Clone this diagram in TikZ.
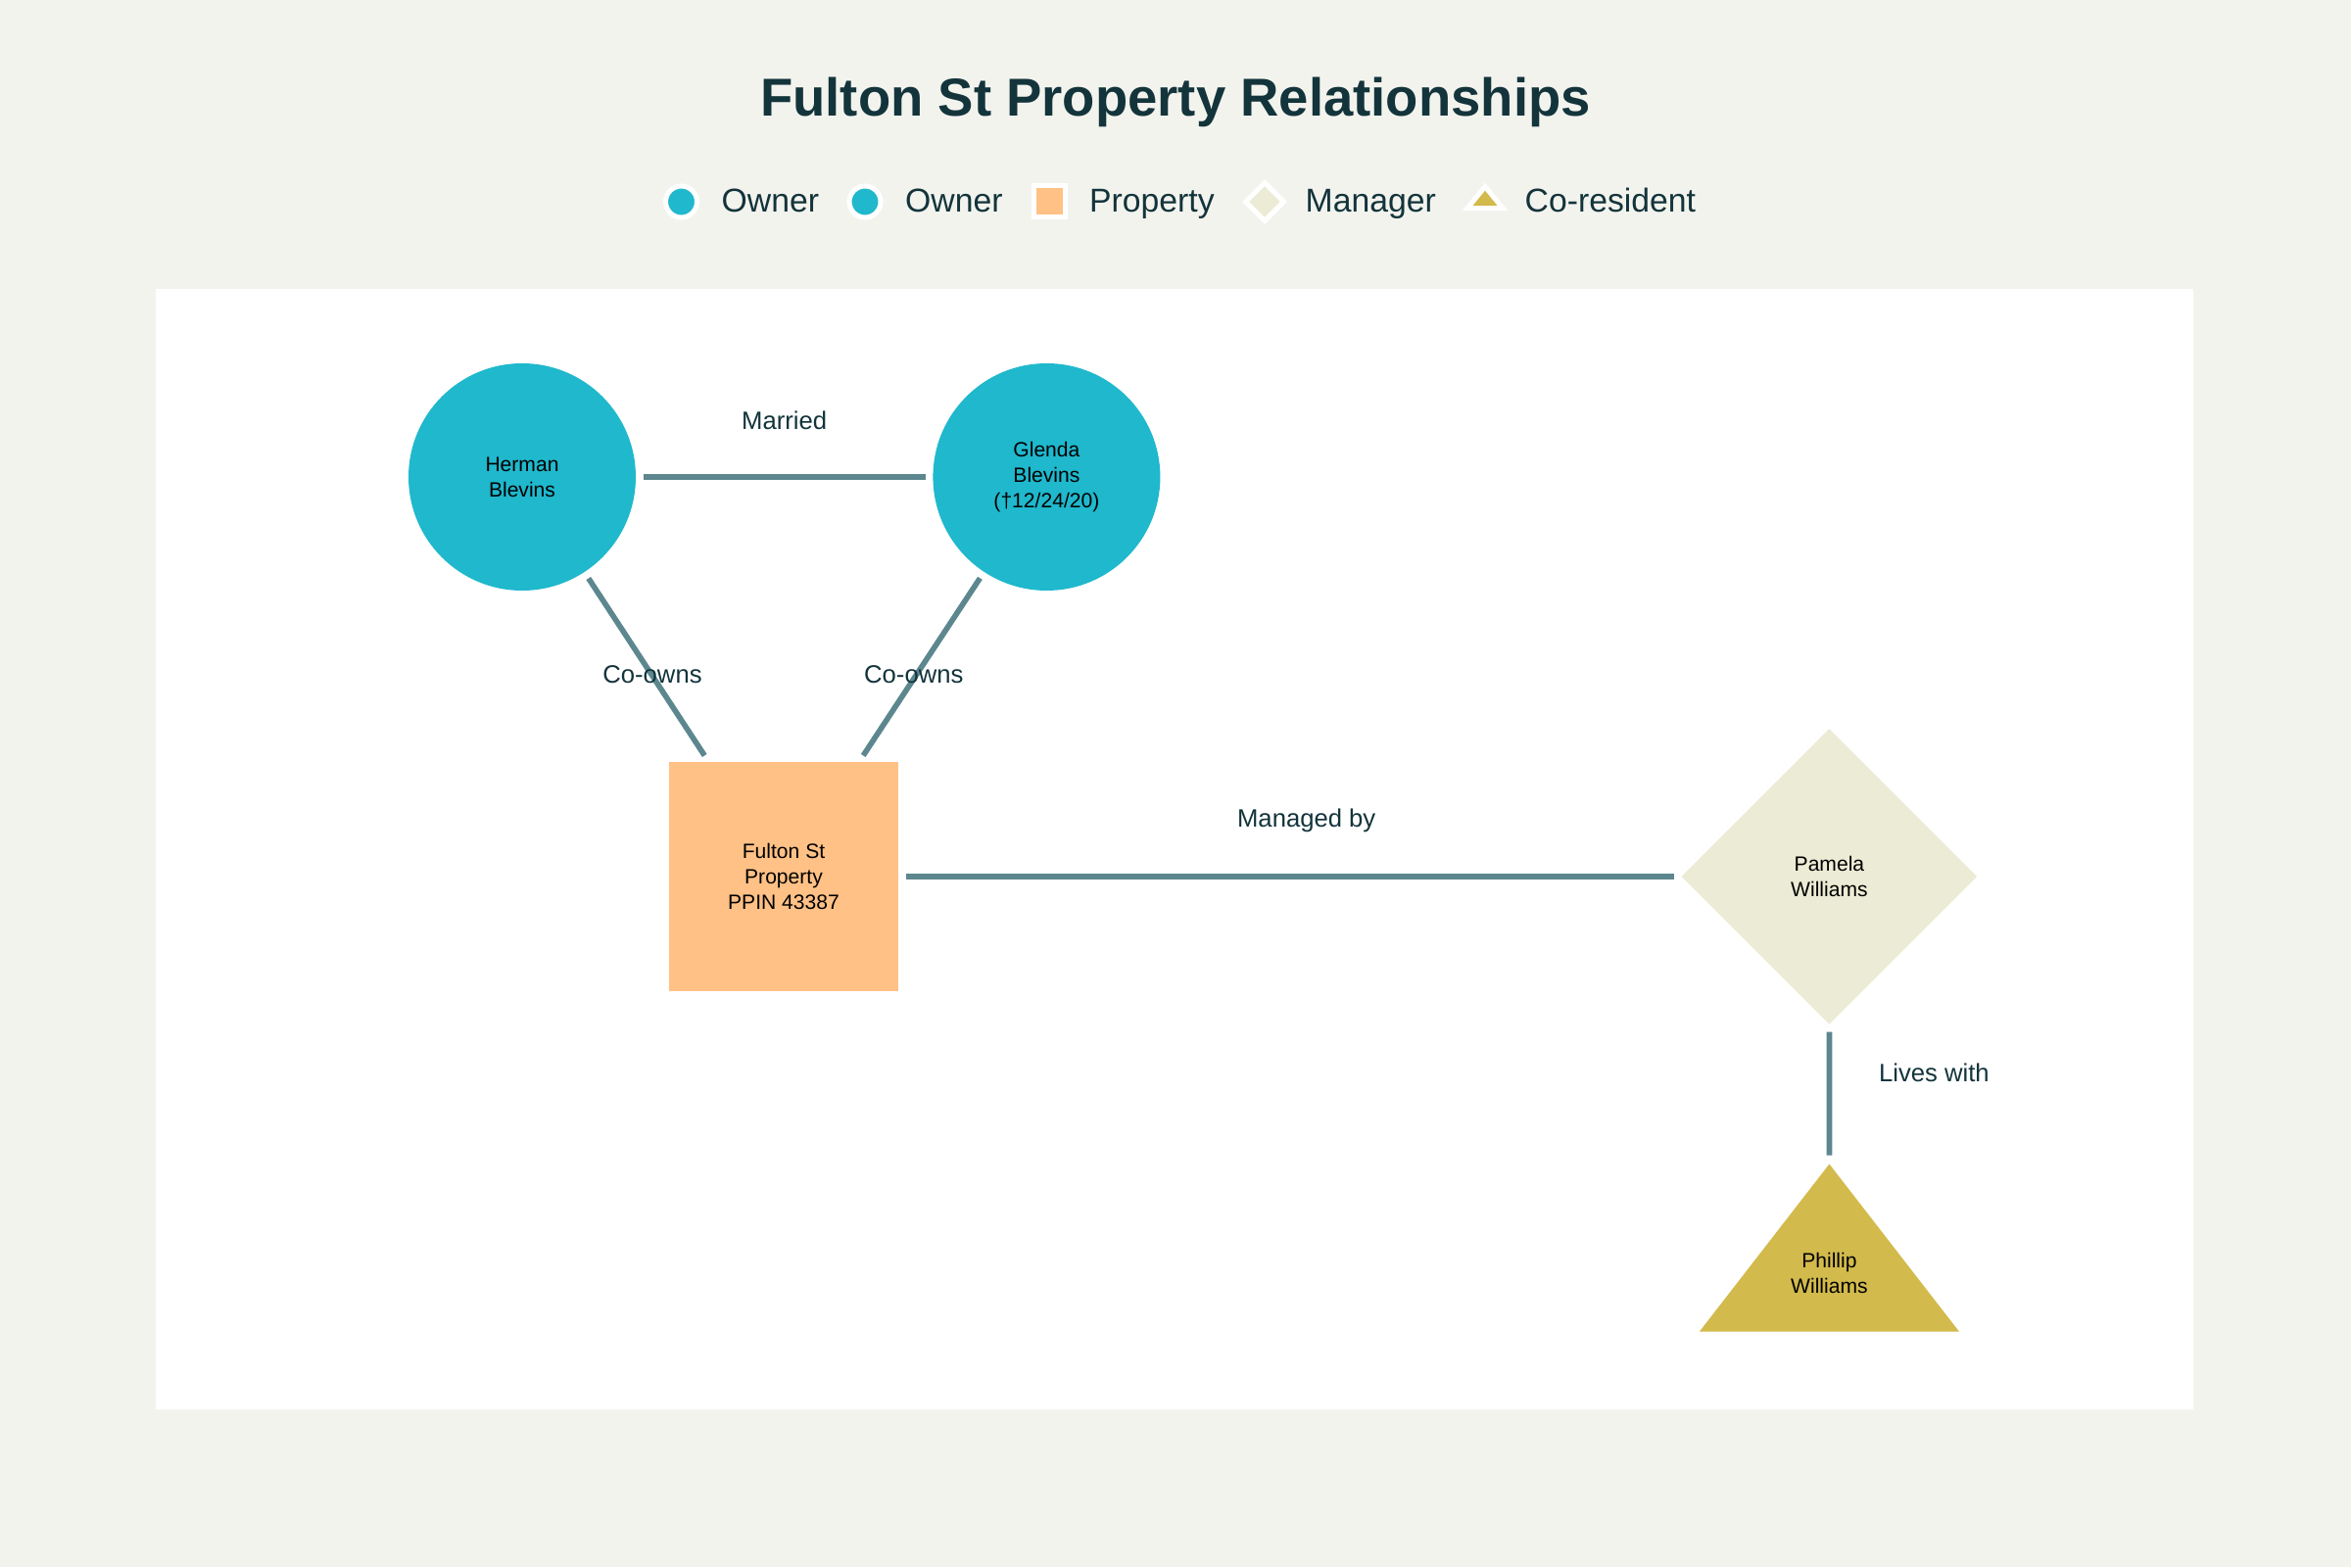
\documentclass[tikz,border=0pt]{standalone}
\usepackage{fontspec}
\setmainfont{Liberation Sans}
\usepackage{tikz}
\usetikzlibrary{positioning}
\usetikzlibrary{shapes.geometric}
\definecolor{bgpaper}{HTML}{F3F3EE}
\definecolor{ownerteal}{HTML}{1FB8CD}
\definecolor{proporange}{HTML}{FFC185}
\definecolor{mgrbeige}{HTML}{ECEBD5}
\definecolor{resgold}{HTML}{D2BA4C}
\definecolor{linkgrey}{HTML}{5D878F}
\definecolor{inkdark}{HTML}{13343B}
\tikzset{person font/.style={font=\fontsize{6}{7.4}\selectfont,text=black,align=center},
  owner node/.style={circle,fill=ownerteal,minimum size=2.32cm,inner sep=0pt,person font},
  property node/.style={rectangle,fill=proporange,minimum size=2.34cm,inner sep=0pt,person font},
  manager node/.style={diamond,aspect=1,fill=mgrbeige,minimum size=3.02cm,inner sep=0pt,person font},
  resident node/.style={isosceles triangle,isosceles triangle stretches,shape border rotate=90,fill=resgold,minimum width=2.65cm,minimum height=1.71cm,inner sep=0pt,text depth=0.14cm,person font},
  link/.style={draw=linkgrey,line width=1.6pt,shorten <=0.07cm,shorten >=0.07cm},
  link label/.style={text=inkdark,font=\fontsize{7.3}{9}\selectfont},
  legend mark/.style={draw=white,line width=0.05cm,inner sep=0pt},
  legend text/.style={text=inkdark,font=\fontsize{9.6}{11}\selectfont,inner sep=0pt,text height=1.6ex,text depth=0.45ex},
}
\begin{document}
\begin{tikzpicture}
	\fill[bgpaper] (0,0) rectangle (24,-16);
	\useasboundingbox (0,0) rectangle (24,-16);
	\fill[white] (1.59,-2.95) rectangle (22.39,-14.39);

	\node[font=\fontsize{15.5}{18}\selectfont\bfseries, text=inkdark] (title) at (12,-1.04) {Fulton St Property Relationships};

	% legend
	\node[legend mark, circle, fill=ownerteal, minimum size=0.32cm] (lgownera) at (6.955,-2.06) {};
	\node[legend text] (lgowneratext) [right = 0.22cm of lgownera] {Owner};
	\node[legend mark, circle, fill=ownerteal, minimum size=0.32cm] (lgownerb) at (8.83,-2.06) {};
	\node[legend text] (lgownerbtext) [right = 0.22cm of lgownerb] {Owner};
	\node[legend mark, rectangle, fill=proporange, minimum size=0.32cm] (lgprop) at (10.71,-2.06) {};
	\node[legend text] (lgproptext) [right = 0.22cm of lgprop] {Property};
	\node[legend mark, diamond, aspect=1, fill=mgrbeige, minimum size=0.41cm] (lgmgr) at (12.91,-2.06) {};
	\node[legend text] (lgmgrtext) [right = 0.18cm of lgmgr] {Manager};
	\node[legend mark, isosceles triangle, isosceles triangle stretches, shape border rotate=90, fill=resgold, minimum width=0.36cm, minimum height=0.22cm] (lgres) at (15.16,-2.04) {};
	\node[legend text, anchor=west] (lgrestext) at (15.56,-2.06) {Co-resident};

	% people and property
	\node[owner node] (herman) at (5.33,-4.87) {Herman\\Blevins};
	\node[owner node] (glenda) [right = 3.02cm of herman] {Glenda\\Blevins\\(†12/24/20)};
	\node[property node] (property) at (8.0,-8.95) {Fulton St\\Property\\PPIN 43387};
	\node[manager node] (pamela) [right = 7.98cm of property] {Pamela\\Williams};
	\node[resident node] (phillip) [below = 1.40cm of pamela, anchor=apex] {Phillip\\Williams};

	\path[link]
	(herman) edge node[link label, yshift=0.58cm] {Married} (glenda)
	(herman) edge node[link label, xshift=0.06cm, yshift=-0.08cm] {Co-owns} (property)
	(glenda) edge node[link label, xshift=-0.08cm, yshift=-0.08cm] {Co-owns} (property)
	(property) edge node[link label, xshift=0.17cm, yshift=0.57cm] {Managed by} (pamela)
	(pamela) edge node[link label, xshift=1.07cm, yshift=0.21cm] {Lives with} (phillip);
\end{tikzpicture}
\end{document}
